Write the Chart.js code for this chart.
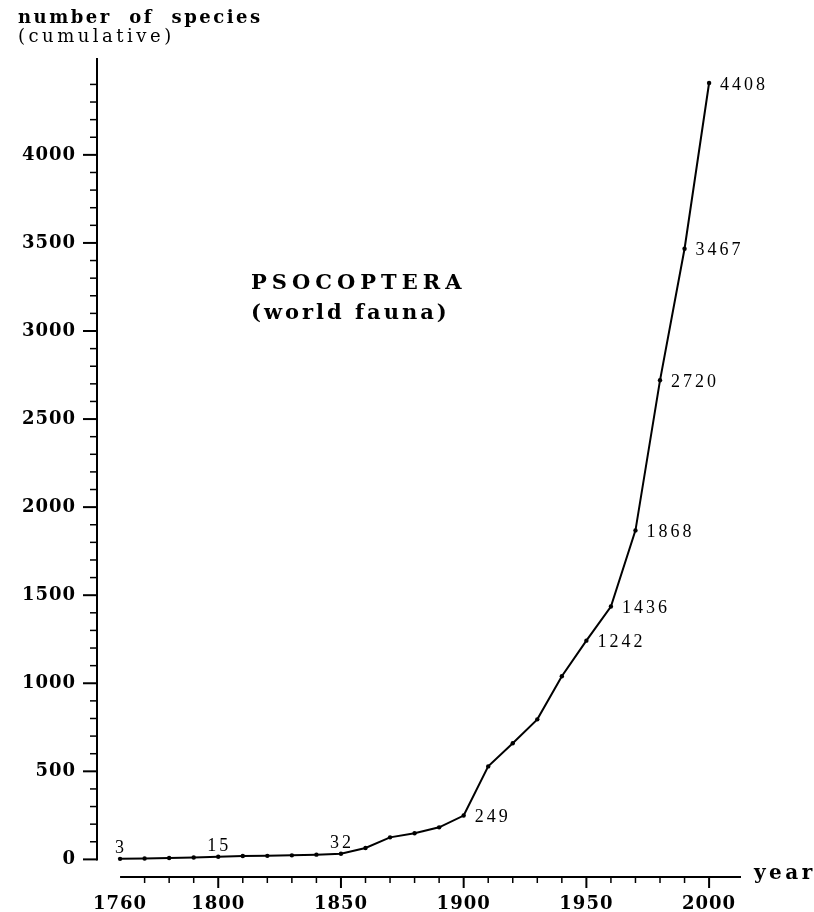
<!DOCTYPE html>
<html lang="en">
<head>
<meta charset="utf-8">
<title>Psocoptera - world fauna</title>
<script src="https://cdn.jsdelivr.net/npm/chart.js@4/dist/chart.umd.min.js"></script>
<style>
  body {margin: 0; background: #fff;}
  canvas {display: block;}
</style>
</head>
<body>
<canvas id="graphique" width="814" height="912"></canvas>
<script>
// donnees (nombre cumule d'especes decrites)
const years = [1760, 1770, 1780, 1790, 1800, 1810, 1820, 1830, 1840, 1850, 1860, 1870, 1880,
               1890, 1900, 1910, 1920, 1930, 1940, 1950, 1960, 1970, 1980, 1990, 2000];
const species = [3, 5, 8, 11, 15, 19, 20, 23, 27, 32, 65, 125, 148,
                 182, 249, 528, 659, 795, 1040, 1242, 1436, 1868, 2720, 3467, 4408];
// annees dont la valeur est ecrite a cote du point
const labelledYears = [1760, 1800, 1850, 1900, 1950, 1960, 1970, 1980, 1990, 2000];
const xLabels = [1760, 1800, 1850, 1900, 1950, 2000];
const yLabels = [0, 500, 1000, 1500, 2000, 2500, 3000, 3500, 4000];

// axes dessines a la main (ils ne se touchent pas sur la figure)
const axesPlugin = {
  id: 'axesMain',
  beforeDraw(chart) {
    chart.ctx.letterSpacing = '1px';
  },
  afterDraw(chart) {
    const ctx = chart.ctx;
    const area = chart.chartArea;
    const xs = chart.scales.x, ys = chart.scales.y;
    ctx.save();
    ctx.strokeStyle = '#000';
    ctx.fillStyle = '#000';

    // axe vertical
    const y0 = ys.getPixelForValue(0);
    ctx.lineWidth = 2;
    ctx.beginPath();
    ctx.moveTo(area.left, area.top);
    ctx.lineTo(area.left, y0 + 1);
    ctx.stroke();
    ys.ticks.forEach(t => {
      if (t.value < 0 || t.value > 4400 || t.value % 100 !== 0) return;
      const major = t.value % 500 === 0;
      const py = ys.getPixelForValue(t.value);
      ctx.lineWidth = major ? 2 : 1.5;
      ctx.beginPath();
      ctx.moveTo(area.left - (major ? 14 : 7), py);
      ctx.lineTo(area.left, py);
      ctx.stroke();
    });

    // axe horizontal
    const xStart = xs.getPixelForValue(1760);
    ctx.lineWidth = 2;
    ctx.beginPath();
    ctx.moveTo(xStart, area.bottom);
    ctx.lineTo(area.right, area.bottom);
    ctx.stroke();
    xs.ticks.forEach(t => {
      if (t.value < 1770 || t.value > 2000 || t.value % 10 !== 0) return;
      const major = t.value % 50 === 0;
      const px = xs.getPixelForValue(t.value);
      ctx.lineWidth = major ? 2 : 1.5;
      ctx.beginPath();
      ctx.moveTo(px, area.bottom);
      ctx.lineTo(px, area.bottom + (major ? 11 : 6));
      ctx.stroke();
    });

    // textes
    ctx.textAlign = 'left';
    ctx.textBaseline = 'alphabetic';
    ctx.font = 'bold 18px "DejaVu Serif"';
    ctx.letterSpacing = '2.5px';
    ctx.fillText('number  of  species', 18, 23);
    ctx.font = '18px "DejaVu Serif"';
    ctx.letterSpacing = '3.5px';
    ctx.fillText('(cumulative)', 18, 42);

    ctx.font = 'bold 20px "DejaVu Serif"';
    ctx.letterSpacing = '3.5px';
    ctx.fillText('year', 754, 879);

    ctx.font = 'bold 21px "DejaVu Serif"';
    ctx.letterSpacing = '5px';
    ctx.fillText('PSOCOPTERA', 251, 289);
    ctx.letterSpacing = '3px';
    ctx.fillText('(world fauna)', 251, 319);

    // valeurs a cote des points
    const meta = chart.getDatasetMeta(0);
    ctx.font = '18px "Liberation Serif"';
    ctx.letterSpacing = '3px';
    labelledYears.forEach(yr => {
      const i = years.indexOf(yr);
      const pt = meta.data[i];
      const txt = String(species[i]);
      if (yr <= 1850) {
        ctx.textAlign = 'center';
        ctx.textBaseline = 'alphabetic';
        ctx.fillText(txt, pt.x + 1, pt.y - 6);
      } else {
        ctx.textAlign = 'left';
        ctx.textBaseline = 'middle';
        ctx.fillText(txt, pt.x + 11, pt.y + 2);
      }
    });
    ctx.restore();
  }
};

const ctx = document.getElementById('graphique').getContext('2d');
const chart = new Chart(ctx, {
  type: 'line',
  data: {
    datasets: [{
      data: years.map((yr, i) => ({x: yr, y: species[i]})),
      borderColor: '#000',
      borderWidth: 2,
      pointRadius: 2.2,
      pointBackgroundColor: '#000',
      pointBorderWidth: 0,
      tension: 0
    }]
  },
  options: {
    responsive: false,
    animation: false,
    layout: {padding: {top: 58, right: 73, bottom: 0, left: 0}},
    plugins: {legend: {display: false}, tooltip: {enabled: false}},
    scales: {
      x: {
        type: 'linear',
        min: 1750.6,
        max: 2013,
        grid: {display: false, drawTicks: false, tickLength: 0},
        border: {display: false},
        ticks: {
          stepSize: 10,
          includeBounds: false,
          autoSkip: false,
          maxRotation: 0,
          padding: 17,
          color: '#000',
          font: {family: 'DejaVu Serif', weight: 'bold', size: 18},
          callback: v => xLabels.includes(v) ? String(v) : ''
        },
        afterFit: s => { s.height = 35; }
      },
      y: {
        min: -100,
        max: 4550,
        grid: {display: false, drawTicks: false, tickLength: 0},
        border: {display: false},
        ticks: {
          stepSize: 100,
          includeBounds: false,
          autoSkip: false,
          padding: 21,
          color: '#000',
          font: {family: 'DejaVu Serif', weight: 'bold', size: 18},
          callback: v => yLabels.includes(v) ? String(v) : ''
        },
        afterFit: s => { s.width = 97; }
      }
    }
  },
  plugins: [axesPlugin]
});
</script>
</body>
</html>
